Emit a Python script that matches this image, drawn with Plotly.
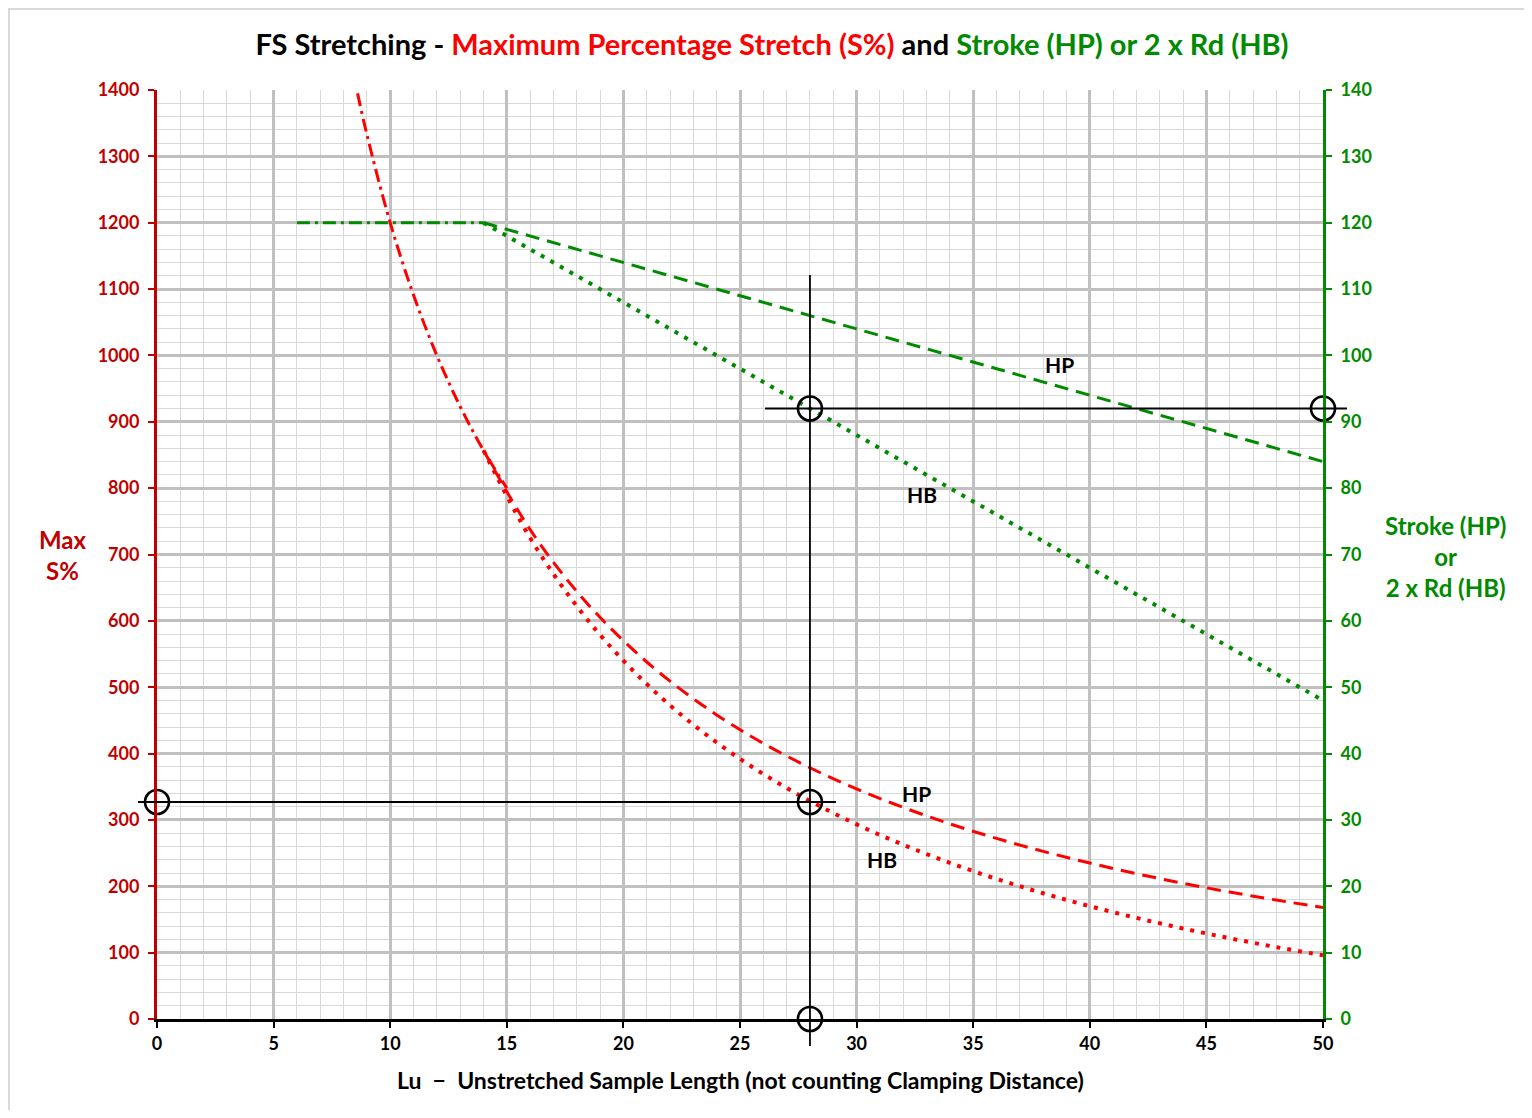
import plotly.graph_objects as go

# ---------------- data ----------------
lu_red_limit = [8.6, 9, 10, 11, 12, 13, 14, 15]
s_red_limit = [1395, 1333, 1200, 1091, 1000, 923, 857, 800]

lu_curve = [14, 16, 18, 20, 22, 24, 26, 28, 30, 32, 34, 36, 38, 40, 42, 44, 46, 48, 50]
s_hp = [857, 737.5, 644.4, 570, 509.1, 458.3, 415.4, 378.6, 346.7, 318.8, 294.1,
        272.2, 252.6, 235, 219, 204.5, 191.3, 179.2, 168]
s_hb = [857, 725, 622.2, 540, 472.7, 416.7, 369.2, 328.6, 293.3, 262.5, 235.3,
        211.1, 189.5, 170, 152.4, 136.4, 121.7, 108.3, 96]

lu_green_limit = [6, 10, 14]
stroke_limit = [120, 120, 120]
lu_green = [14, 20, 28, 35, 40, 45, 50]
stroke_hp = [120, 114, 106, 99, 94, 89, 84]
rd_hb = [120, 108, 92, 78, 68, 58, 48]

# reading example
sel_lu = 28
sel_s = 327
sel_stroke = 92

x_ticks = list(range(0, 51, 5))
y_ticks = list(range(0, 1401, 100))
y2_ticks = list(range(0, 141, 10))

RED = "#ff0000"
DRED = "#c00000"
GREEN = "#008a00"
FONT = "Lato"

# page geometry (the page body adds an 8px margin)
OFF = 8
PAGE_W, PAGE_H = 1532, 1118
W, H = PAGE_W - 2 * OFF, PAGE_H - 2 * OFF
PL, PR, PT, PB = 157, 1323, 90, 1019          # plot area in page pixels
ML, MT = PL - OFF, PT - OFF
MR, MB = (OFF + W) - PR, (OFF + H) - PB
XR = (0, 50)
YR = (0, 1400)
Y2R = (0, 140)

def px_x(v):
    return (v - XR[0]) / (XR[1] - XR[0])

def px_y(v):
    return (v - YR[0]) / (YR[1] - YR[0])

def px_y2(v):
    return (v - Y2R[0]) / (Y2R[1] - Y2R[0])

pw = PR - PL
ph = PB - PT

def pp_x(p):   # page pixel -> paper x
    return (p - PL) / pw

def pp_y(p):   # page pixel -> paper y
    return (PB - p) / ph

fig = go.Figure()

fig.add_trace(go.Scatter(x=lu_red_limit, y=s_red_limit, mode="lines", line_shape="spline",
                         line=dict(color=RED, width=3, dash="13px,5px,3px,5px"), yaxis="y"))
fig.add_trace(go.Scatter(x=lu_curve, y=s_hp, mode="lines", line_shape="spline",
                         line=dict(color=RED, width=3, dash="14px,8px"), yaxis="y"))
fig.add_trace(go.Scatter(x=lu_curve, y=s_hb, mode="lines", line_shape="spline",
                         line=dict(color=RED, width=4, dash="4px,7px"), yaxis="y"))
fig.add_trace(go.Scatter(x=lu_green_limit, y=stroke_limit, mode="lines",
                         line=dict(color=GREEN, width=3, dash="13px,5px,3px,5px"), yaxis="y2"))
fig.add_trace(go.Scatter(x=lu_green, y=stroke_hp, mode="lines",
                         line=dict(color=GREEN, width=3, dash="14px,8px"), yaxis="y2"))
fig.add_trace(go.Scatter(x=lu_green, y=rd_hb, mode="lines",
                         line=dict(color=GREEN, width=4, dash="4px,7px"), yaxis="y2"))

# circles
fig.add_trace(go.Scatter(x=[sel_lu, sel_lu, 0], y=[0, sel_s, sel_s], mode="markers",
                         marker=dict(symbol="circle-open", size=24, color="black",
                                     line=dict(width=2.6, color="black")),
                         cliponaxis=False, yaxis="y"))
fig.add_trace(go.Scatter(x=[sel_lu, 50], y=[sel_stroke, sel_stroke], mode="markers",
                         marker=dict(symbol="circle-open", size=24, color="black",
                                     line=dict(width=2.6, color="black")),
                         cliponaxis=False, yaxis="y2"))

shapes = []
shapes.append(dict(type="line", xref="paper", yref="paper",
                   x0=px_x(sel_lu), x1=px_x(sel_lu),
                   y0=pp_y(1046), y1=pp_y(275),
                   line=dict(color="black", width=1.8)))
shapes.append(dict(type="line", xref="paper", yref="paper",
                   x0=pp_x(138), x1=pp_x(836),
                   y0=px_y(sel_s), y1=px_y(sel_s),
                   line=dict(color="black", width=1.8)))
shapes.append(dict(type="line", xref="paper", yref="paper",
                   x0=pp_x(765), x1=pp_x(1347),
                   y0=px_y2(sel_stroke), y1=px_y2(sel_stroke),
                   line=dict(color="black", width=1.8)))
# outer frame
shapes.append(dict(type="rect", xref="paper", yref="paper",
                   x0=pp_x(OFF + 1), x1=pp_x(PAGE_W + 20),
                   y0=pp_y(PAGE_H + 20), y1=pp_y(OFF + 1),
                   line=dict(color="#d9d9d9", width=2), layer="below"))

lab_font = dict(family=FONT, size=21, color="black", weight="bold")
annotations = [
    dict(text="Max<br>S%", xref="paper", yref="paper", x=pp_x(63), y=pp_y(555),
         xanchor="center", yanchor="middle",
         showarrow=False, font=dict(family=FONT, size=24, color=DRED, weight="bold"), align="center"),
    dict(text="Stroke (HP)<br>or<br>2 x Rd (HB)", xref="paper", yref="paper",
         x=pp_x(1445), y=pp_y(556), xanchor="center", yanchor="middle",
         showarrow=False, font=dict(family=FONT, size=24, color=GREEN, weight="bold"), align="center"),
    dict(text="Lu  \u2212  Unstretched Sample Length (not counting Clamping Distance)", xref="paper", yref="paper",
         x=pp_x(740), y=pp_y(1080), xanchor="center", yanchor="middle",
         showarrow=False, font=dict(family=FONT, size=23, color="black", weight="bold")),
    dict(text="HP", x=38.7, y=98.6, xref="x", yref="y2", showarrow=False, font=lab_font),
    dict(text="HB", x=32.8, y=79.0, xref="x", yref="y2", showarrow=False, font=lab_font),
    dict(text="HP", x=32.55, y=340, xref="x", yref="y", showarrow=False, font=lab_font),
    dict(text="HB", x=31.1, y=240, xref="x", yref="y", showarrow=False, font=lab_font),
]

title_text = ("FS Stretching - <span style='color:#ff0000'>Maximum Percentage Stretch (S%)</span>"
              " and <span style='color:#008a00'>Stroke (HP) or 2 x Rd (HB)</span>")

fig.update_layout(
    width=W, height=H,
    margin=dict(l=ML, r=MR, t=MT, b=MB, pad=0),
    paper_bgcolor="white", plot_bgcolor="white",
    showlegend=False,
    title=dict(text=title_text, x=(772 - OFF) / W, xref="container", xanchor="center",
               y=1 - (45 - OFF) / H, yref="container", yanchor="middle",
               font=dict(family=FONT, size=29, color="black", weight="bold")),
    xaxis=dict(range=list(XR), tickvals=x_ticks, ticks="outside", ticklen=6, tickwidth=2,
               tickcolor="black", showline=True, linecolor="black", linewidth=3,
               showgrid=True, gridcolor="#c0c0c0", gridwidth=2.5, zeroline=False,
               tickfont=dict(family=FONT, size=18, color="black", weight="bold"),
               minor=dict(dtick=1, tick0=0, showgrid=True, gridcolor="#d9d9d9", gridwidth=1.2),
               fixedrange=True),
    yaxis=dict(range=list(YR), tickvals=y_ticks, ticks="outside", ticklen=6, tickwidth=2,
               tickcolor=DRED, showline=True, linecolor=DRED, linewidth=3,
               showgrid=True, gridcolor="#c0c0c0", gridwidth=2.5, zeroline=False,
               tickfont=dict(family=FONT, size=18, color=DRED, weight="bold"),
               ticklabelstandoff=5,
               minor=dict(dtick=20, tick0=0, showgrid=True, gridcolor="#d9d9d9", gridwidth=1.2)),
    yaxis2=dict(range=list(Y2R), tickvals=y2_ticks, overlaying="y", side="right",
                ticks="outside", ticklen=6, tickwidth=2, tickcolor=GREEN,
                showline=True, linecolor=GREEN, linewidth=3, showgrid=False, zeroline=False,
                tickfont=dict(family=FONT, size=18, color=GREEN, weight="bold"),
                ticklabelstandoff=5),
    shapes=shapes,
    annotations=annotations,
)

fig.write_html("out.html")
